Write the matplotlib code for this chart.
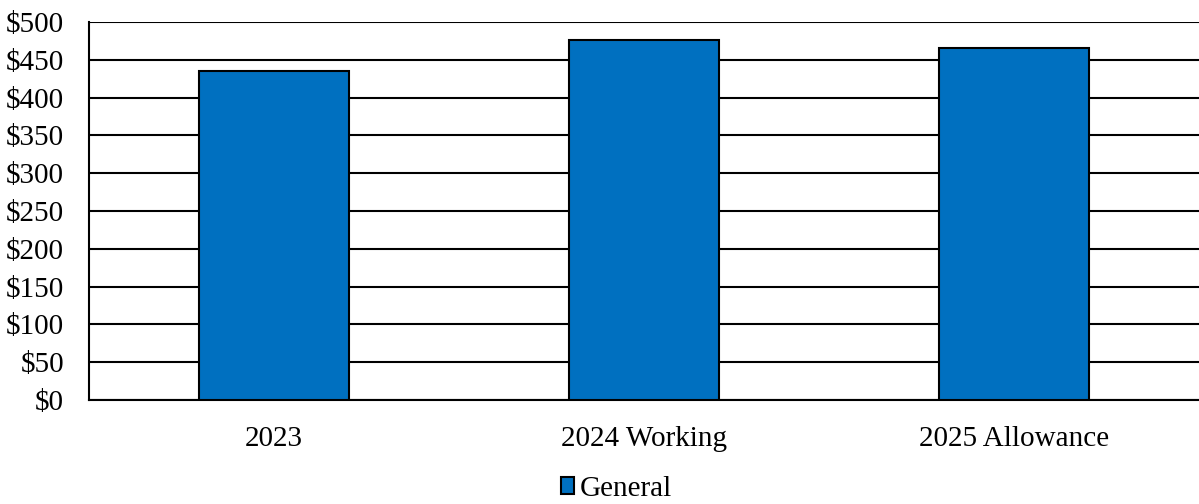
import matplotlib.pyplot as plt
import numpy as np

categories = ['2023', '2024 Working', '2025 Allowance']
general = [435, 476, 466]
yticks = list(range(0, 501, 50))

plt.rcParams['font.family'] = ['Liberation Serif', 'DejaVu Serif']

fig = plt.figure(figsize=(11.99, 5.04), dpi=100)
ax = fig.add_axes([89 / 1199, 104 / 504, 1 - 89 / 1199, 378 / 504])

x = np.arange(len(categories))
ax.bar(x, general, width=0.403, color='#0070C0', edgecolor='black', linewidth=1.5,
       label='General', zorder=3)

ax.set_xlim(-0.5, len(categories) - 0.5)
ax.set_ylim(0, 500)
ax.set_yticks(yticks)
ax.set_yticklabels([f'${v}' for v in yticks], fontsize=21)
ax.set_xticks(x)
ax.set_xticklabels(categories, fontsize=21)
ax.tick_params(axis='both', length=0)
ax.tick_params(axis='x', pad=19)
ax.tick_params(axis='y', pad=18)
ax.yaxis.grid(True, color='black', linewidth=1.5, zorder=0)

for side in ['top', 'right']:
    ax.spines[side].set_visible(False)
ax.spines['left'].set_linewidth(1.5)
ax.spines['bottom'].set_linewidth(1.5)

fig.legend(loc='lower center', bbox_to_anchor=(0.514, -0.048), frameon=False,
           fontsize=21, handlelength=0.45, handleheight=0.5, handletextpad=0.2)

fig.savefig('out.png', dpi=100)
